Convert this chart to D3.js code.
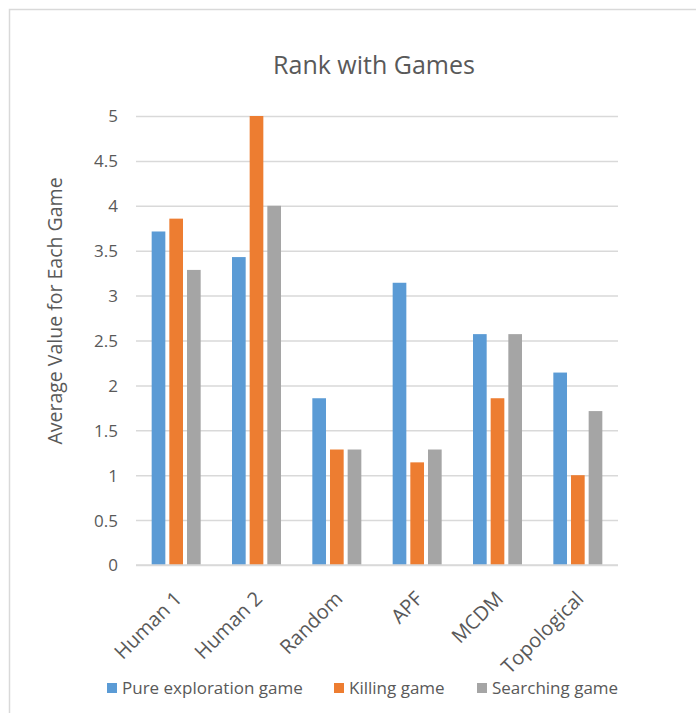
<!DOCTYPE html>
<html>
<head>
<meta charset="utf-8">
<script src="https://cdn.jsdelivr.net/npm/d3@7/dist/d3.min.js"></script>
<style>
  html, body { margin: 0; padding: 0; background: #fff; }
  svg { display: block; font-family: "Open Sans", "Noto Sans", sans-serif; }
</style>
</head>
<body>
<svg id="chart" width="696" height="713"></svg>
<script>
// Average rank per method, for each of the three games
const categories = ["Human 1", "Human 2", "Random", "APF", "MCDM", "Topological"];
const seriesNames = ["Pure exploration game", "Killing game", "Searching game"];
const pureExploration = [3.714, 3.429, 1.857, 3.143, 2.571, 2.143];
const killing = [3.857, 5, 1.286, 1.143, 1.857, 1];
const searching = [3.286, 4, 1.286, 1.286, 2.571, 1.714];
const yTicks = [0, 0.5, 1, 1.5, 2, 2.5, 3, 3.5, 4, 4.5, 5];
const colors = ["#5B9BD5", "#ED7D31", "#A5A5A5"];

const series = [pureExploration, killing, searching];

const svg = d3.select("#chart");
const fontFamily = '"Open Sans", "Noto Sans", sans-serif';
const textColor = "#595959";
const gridColor = "#D9D9D9";

// chart frame
svg.append("rect")
  .attr("x", 9.5).attr("y", 9.5)
  .attr("width", 720).attr("height", 720)
  .attr("fill", "none")
  .attr("stroke", gridColor)
  .attr("stroke-width", 1.5);

const plot = { left: 136, right: 618, top: 116, bottom: 565 };

const x = d3.scaleBand().domain(categories).range([plot.left, plot.right]).padding(0);
const y = d3.scaleLinear().domain([0, 5]).range([plot.bottom, plot.top]);
const inner = d3.scaleBand().domain(d3.range(series.length))
  .range([-24.5, 24.5]).paddingInner(0.226).paddingOuter(0);

// title
svg.append("text")
  .attr("x", 374).attr("y", 74)
  .attr("text-anchor", "middle")
  .attr("fill", textColor)
  .style("font-size", "25px")
  .text("Rank with Games");

// horizontal gridlines
const yAxis = d3.axisLeft(y).tickValues(yTicks).tickSize(-(plot.right - plot.left)).tickPadding(18)
  .tickFormat(d3.format("~g"));
const gy = svg.append("g").attr("transform", `translate(${plot.left},0)`).call(yAxis)
  .attr("font-family", fontFamily);
gy.select(".domain").remove();
gy.selectAll(".tick line").attr("stroke", gridColor).attr("stroke-width", 1.5);
gy.selectAll(".tick text")
  .attr("fill", textColor)
  .style("font-size", "17px")
  .attr("dy", "0.35em");

// y axis title
svg.append("text")
  .attr("transform", `translate(62,${311}) rotate(-90)`)
  .attr("text-anchor", "middle")
  .attr("fill", textColor)
  .style("font-size", "19.5px")
  .text("Average Value for Each Game");

// bars
const groups = svg.append("g").selectAll("g")
  .data(categories)
  .join("g")
  .attr("transform", d => `translate(${x(d) + x.bandwidth() / 2},0)`);

groups.selectAll("rect")
  .data((c, i) => series.map((s, k) => ({ k, v: s[i] })))
  .join("rect")
  .attr("x", d => inner(d.k))
  .attr("width", inner.bandwidth())
  .attr("y", d => y(d.v))
  .attr("height", d => y(0) - y(d.v))
  .attr("fill", d => colors[d.k]);

// baseline
svg.append("line")
  .attr("x1", plot.left).attr("x2", plot.right)
  .attr("y1", y(0)).attr("y2", y(0))
  .attr("stroke", gridColor).attr("stroke-width", 1.5);

// category labels
const xAxis = d3.axisBottom(x).tickSize(0).tickPadding(0);
const gx = svg.append("g").attr("transform", `translate(0,${plot.bottom})`).call(xAxis)
  .attr("font-family", fontFamily);
gx.select(".domain").remove();
gx.selectAll(".tick text")
  .attr("fill", textColor)
  .style("font-size", "20px")
  .attr("text-anchor", "end")
  .attr("dy", 0)
  .attr("transform", "translate(7,35) rotate(-45)");

// legend
const legendItems = [
  { name: seriesNames[0], x: 107 },
  { name: seriesNames[1], x: 334 },
  { name: seriesNames[2], x: 477 }
];
const legend = svg.append("g").selectAll("g")
  .data(legendItems)
  .join("g")
  .attr("transform", d => `translate(${d.x},688)`);
legend.append("rect")
  .attr("x", 0).attr("y", -5)
  .attr("width", 10).attr("height", 10)
  .attr("fill", (d, i) => colors[i]);
legend.append("text")
  .attr("x", 15).attr("y", 0)
  .attr("dy", "0.35em")
  .attr("fill", textColor)
  .style("font-size", "17px")
  .text(d => d.name);
</script>
</body>
</html>
